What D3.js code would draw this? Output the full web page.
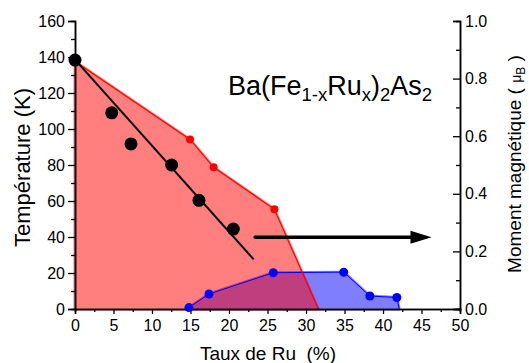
<!DOCTYPE html>
<html><head><meta charset="utf-8">
<script src="https://cdn.jsdelivr.net/npm/d3@7"></script>
<style>
body{margin:0;background:#fff}
svg{display:block}
text{font-family:Arial,"Liberation Sans",sans-serif;fill:#000}
</style>
</head><body><svg id="c" width="529" height="363"></svg>
<script>
// ---- data ----
const blackX=[0,4.77,7.27,12.55,16.1,20.56];
const blackT=[138.3,109,91.7,80,60.4,44.4];
const fitX=[0,23.2];
const fitT=[138.5,27.6];
const redX=[0,14.94,18.0,25.9,31.6];
const redT=[137.5,94.2,78.7,55.4,0];
const redMarkX=[14.94,18.0,25.9];
const redMarkT=[94.2,78.7,55.4];
const blueX=[14.8,17.4,25.75,34.9,38.3,41.8,42.1];
const blueM=[0.005,0.052,0.126,0.128,0.045,0.04,0];
const blueMarkX=[14.8,17.4,25.75,34.9,38.3,41.8];
const blueMarkM=[0.005,0.052,0.126,0.128,0.045,0.04];
const arrowX=[23.4,46.3];
const arrowT=[39.8,39.8];
const xTicks=[0,5,10,15,20,25,30,35,40,45,50];
const yTicks=[0,20,40,60,80,100,120,140,160];
const y2Ticks=[0,0.2,0.4,0.6,0.8,1.0];

// ---- scales ----
const svg=d3.select('#c');
const x=d3.scaleLinear().domain([0,50]).range([75,460]);
const y=d3.scaleLinear().domain([0,160]).range([309,21]);
const y2=d3.scaleLinear().domain([0,1]).range([309,21]);

// fills: blue first, red on top (alpha blend)
const bluePoly=[[blueX[0],0]].concat(blueX.map((v,i)=>[v,blueM[i]]));
const gB=svg.append('g').attr('opacity',0.5);
gB.append('path').attr('d',d3.line().x(d=>x(d[0])).y(d=>y2(d[1]))(bluePoly)+'Z')
  .attr('fill','#0000ff').attr('stroke','#0000ff').attr('stroke-width',3).attr('stroke-linejoin','round');
const redPoly=redX.map((v,i)=>[v,redT[i]]).concat([[0,0]]);
const gR=svg.append('g').attr('opacity',0.5);
gR.append('path').attr('d',d3.line().x(d=>x(d[0])).y(d=>y(d[1]))(redPoly)+'Z')
  .attr('fill','#ff0000').attr('stroke','#ff0000').attr('stroke-width',3).attr('stroke-linejoin','round');

// lines
svg.append('path').attr('d',d3.line().x(d=>x(d[0])).y(d=>y2(d[1]))(blueX.map((v,i)=>[v,blueM[i]])))
  .attr('fill','none').attr('stroke','#0000ff').attr('stroke-width',1);
svg.append('path').attr('d',d3.line().x(d=>x(d[0])).y(d=>y(d[1]))(redX.map((v,i)=>[v,redT[i]])))
  .attr('fill','none').attr('stroke','#ff0000').attr('stroke-width',1.2);

// axes
function styleAxis(g){g.selectAll('path').attr('stroke','#000').attr('stroke-width',1.5);
  g.selectAll('line').attr('stroke','#000').attr('stroke-width',1.3);
  g.selectAll('text').attr('font-size',16).attr('font-family','Arial,"Liberation Sans",sans-serif').attr('fill','#000');}
const minorY=d3.range(10,160,20), minorY2=d3.range(0.1,1,0.2), minorX=d3.range(2.5,50,5);
svg.append('g').attr('transform','translate(75,0)').call(d3.axisLeft(y).tickValues(minorY).tickSize(4).tickFormat('')).call(styleAxis);
svg.append('g').attr('transform','translate(75,0)').call(d3.axisLeft(y).tickValues(yTicks).tickSize(7).tickPadding(3).tickFormat(d3.format('d'))).call(styleAxis);
svg.append('g').attr('transform','translate(460,0)').call(d3.axisRight(y2).tickValues(minorY2).tickSize(-4).tickFormat('')).call(styleAxis);
svg.append('g').attr('transform','translate(460,0)').call(d3.axisRight(y2).tickValues(y2Ticks).tickSize(-7).tickPadding(5).tickFormat(d3.format('.1f'))).call(styleAxis);
svg.append('g').attr('transform','translate(0,309)').call(d3.axisBottom(x).tickValues(minorX).tickSize(3).tickFormat('')).call(styleAxis);
svg.append('g').attr('transform','translate(0,309)').call(d3.axisBottom(x).tickValues(xTicks).tickSize(5).tickPadding(6).tickFormat(d3.format('d'))).call(styleAxis);

// markers
svg.append('g').selectAll('circle').data(blueMarkX).join('circle')
  .attr('cx',d=>x(d)).attr('cy',(d,i)=>y2(blueMarkM[i])).attr('r',4.5).attr('fill','#0000ff');
svg.append('g').selectAll('circle').data(redMarkX).join('circle')
  .attr('cx',d=>x(d)).attr('cy',(d,i)=>y(redMarkT[i])).attr('r',4).attr('fill','#ff0000');
svg.append('line').attr('x1',x(fitX[0])).attr('y1',y(fitT[0])).attr('x2',x(fitX[1])).attr('y2',y(fitT[1]))
  .attr('stroke','#000').attr('stroke-width',2);
svg.append('g').selectAll('circle').data(blackX).join('circle')
  .attr('cx',d=>x(d)).attr('cy',(d,i)=>y(blackT[i])).attr('r',6.5).attr('fill','#000');

// arrow
const ax1=x(arrowX[0]), ax2=x(arrowX[1]), ay=y(arrowT[0]);
svg.append('line').attr('x1',ax1).attr('y1',ay).attr('x2',ax2-18).attr('y2',ay)
  .attr('stroke','#000').attr('stroke-width',3.5).attr('stroke-linecap','round');
svg.append('path').attr('d',`M${ax2-21},${ay-6.5}L${ax2},${ay}L${ax2-21},${ay+6.5}Z`).attr('fill','#000');

// title
const t=svg.append('text').attr('x',228).attr('y',95).attr('font-size',27);
t.append('tspan').text('Ba(Fe');
t.append('tspan').attr('font-size',18.5).attr('dy',5.5).text('1-x');
t.append('tspan').attr('dy',-5.5).text('Ru');
t.append('tspan').attr('font-size',18.5).attr('dy',5.5).text('x');
t.append('tspan').attr('dy',-5.5).text(')');
t.append('tspan').attr('font-size',18.5).attr('dy',5.5).text('2');
t.append('tspan').attr('dy',-5.5).text('As');
t.append('tspan').attr('font-size',18.5).attr('dy',5.5).text('2');

// axis titles
svg.append('text').attr('transform','translate(30,167.5) rotate(-90)').attr('text-anchor','middle')
  .attr('font-size',22).text('Température (K)');
svg.append('text').attr('x',268).attr('y',360).attr('text-anchor','middle').attr('font-size',19)
  .style('white-space','pre').text('Taux de Ru  (%)');
const r=svg.append('text').attr('transform','translate(521,164) rotate(-90)').attr('text-anchor','middle')
  .attr('font-size',19).style('white-space','pre');
r.append('tspan').text('Moment magnétique ( ');
r.append('tspan').attr('font-size',14).text('μ');
r.append('tspan').attr('font-size',12).attr('dy',4).text('B');
r.append('tspan').attr('dy',-4).text(' )');
</script></body></html>
